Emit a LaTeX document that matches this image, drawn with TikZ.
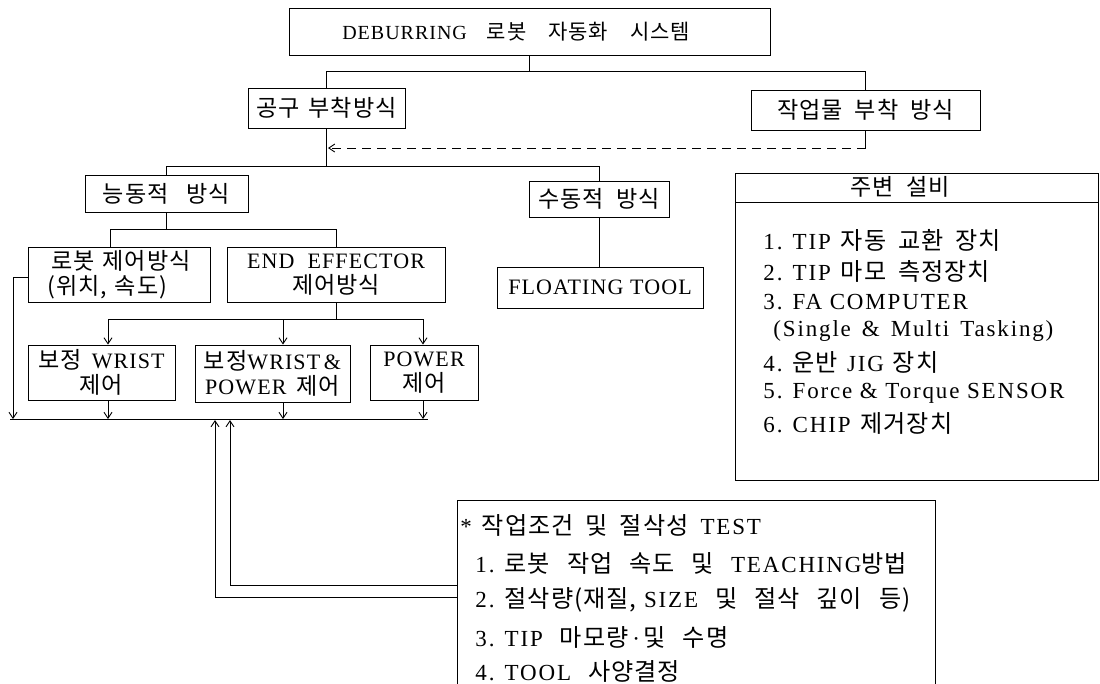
\documentclass[tikz,border=0pt]{standalone}
\usepackage{fontspec}
\setmainfont{Liberation Serif}[LetterSpace=5]
\newfontfamily\krf{Noto Sans CJK KR}[Scale=1.05,LetterSpace=4]
\newcommand\K[1]{{\krf #1}}
\newcommand\w{\hspace{17pt}}
\newcommand\vg{\hspace{12pt}}
\newcommand\fs{\fontsize{22}{25}\selectfont}
\newcommand\fl{\fontsize{23}{27}\selectfont\addfontfeatures{LetterSpace=8}}
\newcommand\fst{\fontsize{20}{24}\selectfont}
\usetikzlibrary{arrows.meta}
\tikzset{
  box/.style={draw, inner sep=0pt, align=center, font=\fs},
  arr/.style={-{Straight Barb[length=6pt,width=8pt]}},
  txt/.style={anchor=west, inner sep=0pt, font=\fl},
}
\begin{document}
\begin{tikzpicture}[x=1pt,y=-1pt,line width=0.9pt]
\path[use as bounding box, clip] (0,0) rectangle (1100,683);
% nodes
\node[box, font=\fst, minimum width=481, minimum height=47] (top) at (529.5,31.5) {\hspace{-27pt}DEBURRING\hspace{20pt}\K{로봇\hspace{22pt}자동화\hspace{22pt}시스템}};
\node[box, minimum width=157, minimum height=40] (gongu) at (326.5,108) {\K{공구\hspace{9pt}부착방식}};
\node[box, minimum width=229, minimum height=40] (jak) at (865.5,110) {\K{작업물\vg 부착\vg 방식}};
\node[box, minimum width=163, minimum height=37] (neung) at (166.5,193.5) {\K{능동적\hspace{18pt}방식}};
\node[box, minimum width=140, minimum height=36] (su) at (599,199) {\K{수동적\vg 방식}};
\node[box, minimum width=206, minimum height=41] (float) at (600,287.5) {FLOATING~TOOL};
\node[box, align=left, minimum width=182, minimum height=55] (robot) at (119,274.5) {\hspace{4pt}\K{로봇\hspace{8pt}제어방식}\\\K{(위치,\hspace{8pt}속도)}};
\node[box, minimum width=218, minimum height=55] (end) at (336,274.5) {END~~EFFECTOR\\\K{제어방식}};
\node[box, minimum width=147, minimum height=55] (w1) at (101.5,372.5) {\K{보정}\hspace{10pt}WRIST\\\K{제어}\hspace{20pt}};
\node[box, minimum width=155, minimum height=57] (w2) at (272.5,373.5) {\K{보정}WRIST\,\&\\POWER\hspace{10pt}\K{제어}};
\node[box, minimum width=108, minimum height=55] (w3) at (424,372.5) {POWER\\\K{제어}};
\node[draw, inner sep=0pt, minimum width=478, minimum height=220, anchor=north west] (cond) at (457,500) {};
\node[draw, inner sep=0pt, minimum width=363, minimum height=307, anchor=north west] (peri) at (735,173) {};
% peripheral box contents
\node[inner sep=0pt, font=\fs] (ph) at (900,187) {\K{주변\vg 설비}};
\node[txt] (p1) at (763,240) {1. TIP\hspace{10pt}\K{자동\vg 교환\vg 장치}};
\node[txt] (p2) at (763,271) {2. TIP\hspace{10pt}\K{마모\vg 측정장치}};
\node[txt] (p3) at (763,302) {3. FA COMPUTER};
\node[txt] (p3b) at (773,331) {(Single\hspace{11pt}\&\hspace{11pt}Multi\hspace{11pt}Tasking)};
\node[txt] (p4) at (763,362) {4. \K{운반}\hspace{9pt}JIG\hspace{9pt}\K{장치}};
\node[txt] (p5) at (763,393) {5. Force~\&~Torque~SENSOR};
\node[txt] (p6) at (763,423) {6. CHIP\hspace{10pt}\K{제거장치}};
\draw (peri.west |- 0,202) coordinate (dv) (dv -| peri.west) -- (dv -| peri.east);
% condition box contents
\node[txt] (c0) at (460,525) {*\hspace{10pt}\K{작업조건\vg 및\vg 절삭성}\vg TEST};
\node[txt] (c1) at (475,563) {1. \K{로봇\w 작업\w 속도\w 및}\w TEACHING\K{방법}};
\node[txt] (c2) at (475,600) {2. \K{절삭량(재질,}~SIZE\w\K{및\w 절삭\w 깊이\w 등)}};
\node[txt] (c3) at (475,637) {3. TIP\w\K{마모량}\,·\,\K{및\w 수명}};
\node[txt] (c4) at (475,671) {4. TOOL\w\K{사양결정}};
% connectors
\draw (top.south) -- ++(0,17);
\draw (gongu.north) -- ++(0,-16) -| (jak.north);
\coordinate (dj) at (328,148);
\draw (jak.south) -- (jak.south |- dj);
\draw[dashed, dash pattern=on 9pt off 6pt, arr] (jak.south |- dj) -- (dj);
\draw (gongu.south) -- ++(0,39);
\draw (neung.north) -- ++(0,-8) -| (su.north);
\draw (su.south) -- (su.south |- float.north);
\draw (neung.south) -- ++(0,18);
\draw ([xshift=-9pt]robot.north) -- ++(0,-17) -| (end.north);
\coordinate (bl) at (10,419);
\coordinate (br) at (428,419);
\draw (bl) -- (br);
\draw[arr] ([yshift=-2.5pt]robot.west) -| (13,419);
\draw (end.south) -- ++(0,17) coordinate (e1);
\draw[arr] (e1) -| ([xshift=6.5pt]w1.north);
\draw[arr] (e1) -| ([xshift=10.5pt]w2.north);
\draw[arr] (e1) -| ([xshift=-1pt]w3.north);
\draw[arr] ([xshift=6.5pt]w1.south) -- ([xshift=6.5pt]w1.south |- bl);
\draw[arr] ([xshift=10.5pt]w2.south) -- ([xshift=10.5pt]w2.south |- bl);
\draw[arr] ([xshift=-1pt]w3.south) -- ([xshift=-1pt]w3.south |- bl);
\draw[arr] (cond.west |- 0,597) -| (215,420);
\draw[arr] (cond.west |- 0,585) -| (230,420);
\end{tikzpicture}
\end{document}
